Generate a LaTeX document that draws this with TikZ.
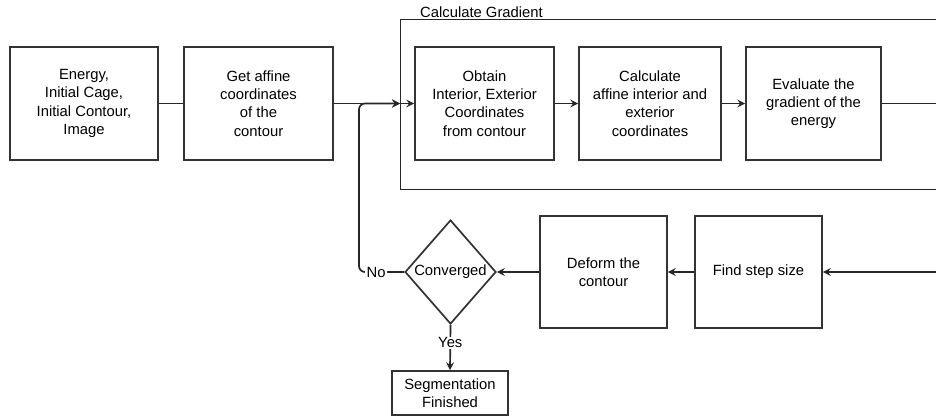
\documentclass[tikz,border=0pt]{standalone}
\usepackage{fontspec}
\setmainfont{Liberation Sans}
\usetikzlibrary{arrows.meta,shapes.geometric}
\begin{document}
\begin{tikzpicture}[x=1pt,y=-1pt,
  txt/.style={font=\fontsize{14.8}{18.3}\selectfont},
  box/.style={txt,draw=black!80, line width=1.7pt, align=center, inner sep=0pt},
  conn/.style={line width=1.7pt, draw=black!85},
  arr/.style={conn,-{Stealth[length=8pt,width=8pt,inset=3pt]}}]
\useasboundingbox (0,0) rectangle (936,417);
% group
\node[draw=black!85, line width=1pt, minimum width=540pt, minimum height=169pt, inner sep=0pt] (grp) at (670,104.5) {};
\node[txt, anchor=base west, inner sep=0pt] (gtitle) at (420,18) {Calculate Gradient};
% top row
\node[box, minimum width=148pt, minimum height=113pt] (b1) at (84,103.5) {Energy,\\Initial Cage,\\Initial Contour,\\Image};
\node[box, minimum width=149pt, minimum height=113pt] (b2) at (258.5,103.5) {Get affine\\coordinates\\of the\\contour};
\node[box, minimum width=139pt, minimum height=113pt] (b3) at (484.5,103.5) {Obtain\\Interior, Exterior\\Coordinates\\from contour};
\node[box, minimum width=142pt, minimum height=113pt] (b4) at (650,103.5) {Calculate\\affine interior and\\exterior\\coordinates};
\node[box, minimum width=135pt, minimum height=113pt] (b5) at (813.5,103.5) {Evaluate the\\gradient of the\\energy};
% bottom row
\node[box, minimum width=127pt, minimum height=112pt] (fs) at (758.5,272) {Find step size};
\node[box, minimum width=127pt, minimum height=112pt] (df) at (603.5,272) {Deform the\\contour};
\node[box, shape=diamond, minimum width=91pt, minimum height=104pt] (dia) at (450.5,272) {Converged};
\node[box, minimum width=116pt, minimum height=44pt] (seg) at (450,393) {Segmentation\\Finished};
% coordinates
\coordinate (gin) at (400,103.5);
\coordinate (rout) at (940,103.5);
\coordinate (rin) at (940,272);
\coordinate (lc) at (359,272);
\coordinate (lt) at (359,103.5);
% connectors
\draw[conn] (b1) -- (b2);
\draw[arr] (b2.east) -- (gin);
\draw[arr] (gin) -- (b3.west);
\draw[arr] (b3) -- (b4);
\draw[arr] (b4) -- (b5);
\draw[conn] (b5.east) -- (rout);
\draw[arr] (rin) -- (fs.east);
\draw[arr] (fs) -- (df);
\draw[arr] (df) -- (dia);
\draw[arr, rounded corners=6pt] (dia.west) -- node[txt, pos=0.62, fill=white, inner sep=1.5pt] (no) {No} (lc) -- (lt) -- (gin);
\draw[arr] (dia.south) -- node[txt, pos=0.4, fill=white, inner sep=1pt] (yes) {Yes} (seg.north);
\end{tikzpicture}
\end{document}
